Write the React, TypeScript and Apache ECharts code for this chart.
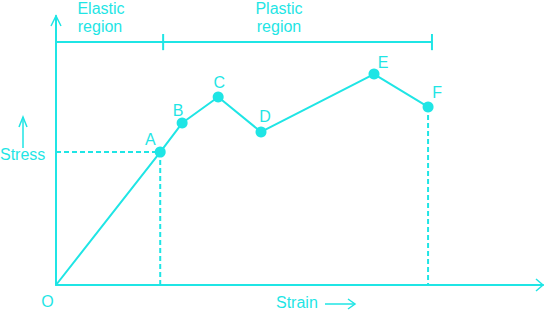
import React, { useEffect, useRef } from "react";
import * as echarts from "echarts";

// Points on the stress-strain curve
const pointNames = ["O", "A", "B", "C", "D", "E", "F"];
const strainValues = [0, 21.4, 25.9, 33.3, 42.1, 65.3, 76.4];
const stressValues = [0, 49.4, 60.2, 69.9, 56.9, 78.4, 66.2];

// Region bracket: level and bounds (start, elastic/plastic boundary, end)
const regionLevel = 90.3;
const regionBounds = [0, 22.0, 77.2];
const regionTickHalf = 3.0;

const axisTitles = { x: "Strain", y: "Stress", origin: "O" };
const regionTitles = [["Elastic", "region"], ["Plastic", "region"]];

const COLOR = "#1fe5e5";
const FONT = "'Liberation Sans', Arial, Helvetica, sans-serif";

// label offsets (style)
const labelOffsets: Record<string, [number, number]> = {
  A: [-10, -13],
  B: [-4, -13],
  C: [1, -14],
  D: [4, -15],
  E: [9, -12],
  F: [9, -14],
};

export default function App() {
  const ref = useRef<HTMLDivElement>(null);
  useEffect(() => {
    if (!ref.current) return;
    const chart = echarts.init(ref.current, undefined, { renderer: "svg" });

    const curveData = pointNames.map((n, i) => {
      const base: any = { value: [strainValues[i], stressValues[i]], name: n };
      if (n === "O") {
        base.symbol = "none";
      } else {
        base.label = {
          show: true,
          formatter: n,
          position: "inside",
          offset: labelOffsets[n],
          color: COLOR,
          fontSize: 16,
          fontFamily: FONT,
        };
      }
      return base;
    });

    const iA = pointNames.indexOf("A");
    const iF = pointNames.indexOf("F");
    const dashStyle = { color: COLOR, width: 2, type: [5, 3] as any };
    const solid = { color: COLOR, width: 2 };

    const textStyle = (s: string, x: number, y: number, align = "center") => ({
      type: "text",
      x,
      y,
      style: {
        text: s,
        fill: COLOR,
        font: `16px ${FONT}`,
        align,
        verticalAlign: "middle",
      },
      silent: true,
    });
    const poly = (pts: number[][], w = 1.5) => ({
      type: "polyline",
      shape: { points: pts },
      style: { stroke: COLOR, lineWidth: w, fill: "none" },
      silent: true,
    });

    chart.setOption({
      animation: false,
      grid: { left: 56, right: 3, top: 16, bottom: 25 },
      xAxis: {
        type: "value",
        min: 0,
        max: 100,
        axisLine: { show: true, onZero: false, lineStyle: { color: COLOR, width: 2 } },
        axisTick: { show: false },
        axisLabel: { show: false },
        splitLine: { show: false },
      },
      yAxis: {
        type: "value",
        min: 0,
        max: 100,
        axisLine: { show: true, onZero: false, lineStyle: { color: COLOR, width: 2 } },
        axisTick: { show: false },
        axisLabel: { show: false },
        splitLine: { show: false },
      },
      series: [
        {
          type: "line",
          data: [
            [0, stressValues[iA]],
            [strainValues[iA], stressValues[iA]],
            [strainValues[iA], 0],
          ],
          symbol: "none",
          lineStyle: dashStyle,
          z: 1,
        },
        {
          type: "line",
          data: [
            [strainValues[iF], stressValues[iF]],
            [strainValues[iF], 0],
          ],
          symbol: "none",
          lineStyle: dashStyle,
          z: 1,
        },
        {
          type: "line",
          data: [
            [regionBounds[0], regionLevel],
            [regionBounds[2], regionLevel],
          ],
          symbol: "none",
          lineStyle: solid,
        },
        {
          type: "line",
          data: [
            [regionBounds[1], regionLevel - regionTickHalf],
            [regionBounds[1], regionLevel + regionTickHalf],
          ],
          symbol: "none",
          lineStyle: solid,
        },
        {
          type: "line",
          data: [
            [regionBounds[2], regionLevel - regionTickHalf],
            [regionBounds[2], regionLevel + regionTickHalf],
          ],
          symbol: "none",
          lineStyle: solid,
        },
        {
          type: "line",
          data: curveData,
          symbol: "circle",
          symbolSize: 11,
          itemStyle: { color: COLOR },
          lineStyle: solid,
          z: 3,
        },
      ],
      graphic: [
        // axis arrow heads
        poly([[51, 26], [56, 16], [61, 26]]),
        poly([[536, 279], [543, 285], [536, 291]]),
        // stress arrow
        poly([[23, 148], [23, 117]]),
        poly([[19, 127], [23, 117], [27, 127]]),
        // strain arrow
        poly([[325, 304], [355, 304]]),
        poly([[348, 299], [355, 304], [348, 309]]),
        textStyle(regionTitles[0][0], 101, 8),
        textStyle(regionTitles[0][1], 100, 26),
        textStyle(regionTitles[1][0], 279, 8),
        textStyle(regionTitles[1][1], 279, 26),
        textStyle(axisTitles.y, 0, 154.5, "left"),
        textStyle(axisTitles.origin, 47.5, 301.5),
        textStyle(axisTitles.x, 276, 302, "left"),
      ],
    });
    return () => chart.dispose();
  }, []);
  return (
    <div
      ref={ref}
      style={{ position: "fixed", left: 0, top: 0, width: 546, height: 310, background: "#fff" }}
    />
  );
}
